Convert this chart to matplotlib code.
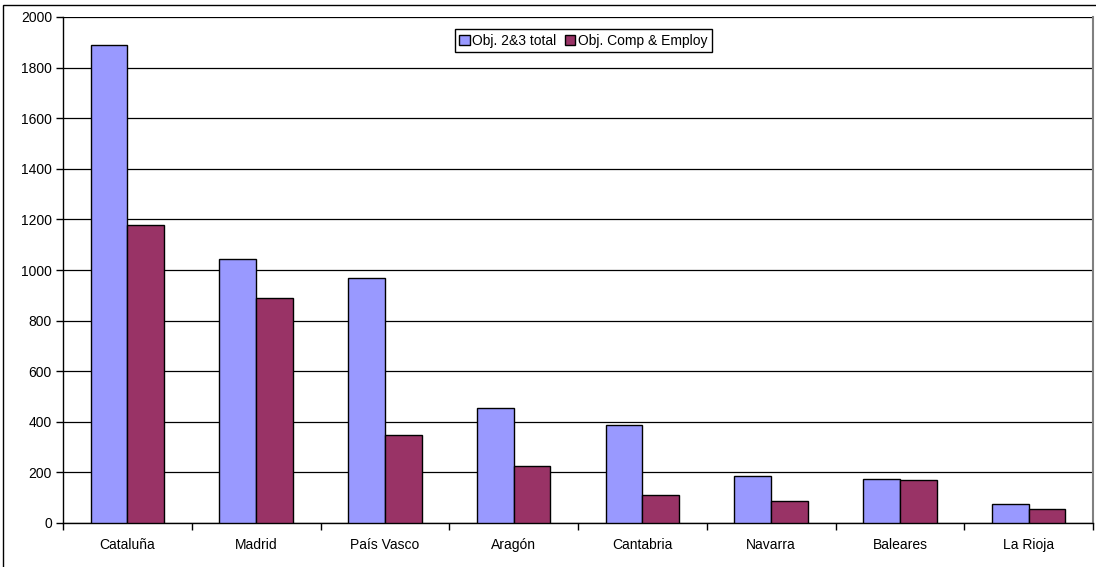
import numpy as np
import matplotlib.pyplot as plt
from matplotlib.patches import Rectangle

plt.rcParams['font.family'] = ['Liberation Sans', 'DejaVu Sans']

regions = ["Cataluña", "Madrid", "País Vasco", "Aragón",
           "Cantabria", "Navarra", "Baleares", "La Rioja"]
obj_total = [1890, 1042, 969, 455, 388, 186, 172, 74]
obj_comp = [1176, 891, 349, 225, 112, 86, 168, 54]

W, H = 1096, 567
fig = plt.figure(figsize=(W / 100, H / 100), dpi=100)
ax = fig.add_axes([63 / W, 1 - 523 / H, (1093 - 63) / W, (523 - 17) / H])

x = np.arange(len(regions))
bw = 1 / 3.5
ax.bar(x - bw / 2, obj_total, bw, color="#9999FF", edgecolor="black",
       linewidth=1, label="Obj. 2&3 total", zorder=3)
ax.bar(x + bw / 2, obj_comp, bw, color="#993366", edgecolor="black",
       linewidth=1, label="Obj. Comp & Employ", zorder=3)

ax.set_xlim(-0.5, len(regions) - 0.5)
ax.set_ylim(0, 2000)
ax.set_yticks(np.arange(0, 2001, 200))
ax.yaxis.grid(True, color="black", linewidth=0.9, zorder=0)
ax.set_axisbelow(True)

# category labels centred, tick marks on category boundaries
ax.set_xticks(x)
ax.set_xticklabels(regions, fontsize=10, va="baseline")
ax.set_xticks(np.arange(-0.5, len(regions) + 0.5, 1), minor=True)
ax.tick_params(axis="x", which="major", length=0, pad=19)
ax.tick_params(axis="x", which="minor", length=5, width=1, direction="out")
ax.tick_params(axis="y", length=5, width=1, labelsize=10, pad=3)

ax.spines["top"].set_visible(False)
ax.spines["right"].set_color("#808080")
ax.spines["right"].set_linewidth(1.5)
for s in ("left", "bottom"):
    ax.spines[s].set_linewidth(1)

leg = fig.legend(loc="center", bbox_to_anchor=(583.5 / W, 1 - 40.5 / H),
                 ncol=2, fontsize=10, frameon=True, fancybox=False,
                 edgecolor="black", framealpha=1, handlelength=0.75,
                 handleheight=0.75, handletextpad=0.2, columnspacing=0.6,
                 borderpad=0.3, borderaxespad=0)
leg.get_frame().set_linewidth(1)

# outer chart border
fig.patches.append(Rectangle((3 / W, -0.01), 1.1, 1 - 5 / H + 0.01,
                             transform=fig.transFigure, fill=False,
                             edgecolor="black", linewidth=1))

fig.savefig("out.png", dpi=100)
